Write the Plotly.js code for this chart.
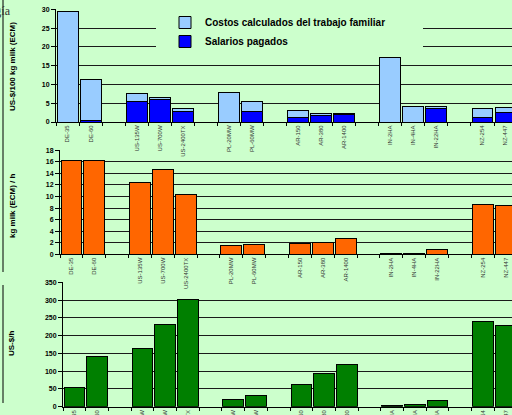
<!DOCTYPE html>
<html>
<head>
<meta charset="utf-8">
<script src="https://cdn.plot.ly/plotly-3.0.1.min.js"></script>
<style>html,body{margin:0;padding:0;background:#CCFFCC;}#chart{width:512px;height:415px;}</style>
</head>
<body>
<div id="chart"></div>
<script>
// Categories (blank entries are the gaps between country groups)
const categories = ['DE-35','DE-60',' ','US-135W','US-700W','US-2400TX','  ','PL-20MW','PL-60MW','   ','AR-150','AR-380','AR-1400','    ','IN-2HA','IN-4HA','IN-22HA','     ','NZ-254','NZ-447'];

// Panel 1: US-$/100 kg milk (ECM)
const salariosPagados = [0, 0.4, null, 5.5, 6.1, 2.9, null, 0, 2.9, null, 1.3, 1.7, 2.0, null, 0, 0, 3.5, null, 1.15, 2.4];
const costosFamiliar  = [29.5, 11.0, null, 2.1, 0.3, 0.7, null, 7.8, 2.6, null, 1.8, 0.5, 0.2, null, 17.1, 4.2, 0.5, null, 2.35, 1.4];

// Panel 2: kg milk (ECM) / h
const kgMilkPerHour = [16.3, 16.15, null, 12.5, 14.7, 10.4, null, 1.55, 1.7, null, 1.8, 2.0, 2.65, null, 0.17, 0.17, 0.75, null, 8.7, 8.4];

// Panel 3: US-$/h
const usdPerHour = [54, 142, null, 164, 230, 302, null, 20.5, 32, null, 62, 94, 118, null, 2, 5.5, 18, null, 241, 229];

const BG = '#CCFFCC';
const lineStyle = {color:'#000', width:1};

const traces = [
  {type:'bar', name:'Salarios pagados', x:categories, y:salariosPagados, xaxis:'x', yaxis:'y',
   marker:{color:'#0000FF', line:lineStyle}, hoverinfo:'skip'},
  {type:'bar', name:'Costos calculados del trabajo familiar', x:categories, y:costosFamiliar, xaxis:'x', yaxis:'y',
   marker:{color:'#99CCFF', line:lineStyle}, hoverinfo:'skip'},
  {type:'bar', name:'kg milk (ECM) / h', x:categories, y:kgMilkPerHour, xaxis:'x2', yaxis:'y2', showlegend:false,
   marker:{color:'#FF6600', line:lineStyle}, hoverinfo:'skip'},
  {type:'bar', name:'US-$/h', x:categories, y:usdPerHour, xaxis:'x3', yaxis:'y3', showlegend:false,
   marker:{color:'#007F00', line:lineStyle}, hoverinfo:'skip'}
];

const H = 415, W = 512;
function xax(left, anchor){
  return {domain:[left/W, 1], range:[-0.5, 19.28], type:'category', categoryorder:'array', categoryarray:categories,
    tickson:'boundaries', ticks:'outside', ticklen:3, tickcolor:'#000', tickangle:-90,
    tickfont:{size:6, color:'#333', family:'Arial, Liberation Sans, sans-serif'},
    showline:true, linecolor:'#000', linewidth:1, showgrid:false, anchor:anchor, fixedrange:true};
}
function yax(top, bottom, max, dtick, anchor){
  return {domain:[(H-bottom)/H, (H-top)/H], range:[0, max], dtick:dtick, ticks:'outside', ticklen:4, tickcolor:'#000',
    tickfont:{size:7, weight:'bold', family:'Arial, Liberation Sans, sans-serif'},
    showline:true, linecolor:'#000', linewidth:1, showgrid:true, gridcolor:'#1a1a1a', gridwidth:1,
    zeroline:false, anchor:anchor, fixedrange:true};
}

const titleFont = {size:8, weight:'bold', family:'Arial, Liberation Sans, sans-serif', color:'#000'};
const layout = {
  width:W, height:H, margin:{l:0, r:0, t:0, b:0},
  paper_bgcolor:BG, plot_bgcolor:BG,
  barmode:'stack', bargap:0.09,
  font:{family:'Arial, Liberation Sans, sans-serif', color:'#000'},
  showlegend:true,
  legend:{x:165/W, y:(H-8)/H, xanchor:'left', yanchor:'top', bgcolor:BG, borderwidth:0, traceorder:'reversed',
    font:{size:10, weight:'bold', family:'Arial, Liberation Sans, sans-serif'}},
  xaxis: xax(56, 'y'),
  yaxis: yax(9.3, 122, 30, 5, 'x'),
  xaxis2: xax(60, 'y2'),
  yaxis2: yax(150.3, 254.3, 18, 2, 'x2'),
  xaxis3: xax(63, 'y3'),
  yaxis3: yax(282.3, 406.7, 350, 50, 'x3'),
  annotations:[
    {text:'US-$/100 kg milk (ECM)', xref:'paper', yref:'paper', x:12/W, y:(H-67)/H, textangle:-90, showarrow:false, font:titleFont, xanchor:'center', yanchor:'middle'},
    {text:'kg milk (ECM) / h', xref:'paper', yref:'paper', x:12/W, y:(H-206)/H, textangle:-90, showarrow:false, font:titleFont, xanchor:'center', yanchor:'middle'},
    {text:'US-$/h', xref:'paper', yref:'paper', x:11/W, y:(H-344)/H, textangle:-90, showarrow:false, font:titleFont, xanchor:'center', yanchor:'middle'},
    {text:'logía', xref:'paper', yref:'paper', x:13/W, y:(H-2)/H, showarrow:false, xanchor:'right', yanchor:'top',
     font:{size:12, family:'Liberation Serif, DejaVu Serif, serif', color:'#333'}}
  ],
  shapes:[
    {type:'rect', xref:'paper', yref:'paper', layer:'above', x0:156/W, x1:423/W, y0:(H-53)/H, y1:(H-12)/H,
     fillcolor:BG, line:{width:0}},
    {type:'line', xref:'paper', yref:'paper', x0:3/W, x1:3/W, y0:(H-0)/H, y1:(H-272)/H, line:{color:'#000', width:1}},
    {type:'line', xref:'paper', yref:'paper', x0:3/W, x1:3/W, y0:(H-285)/H, y1:(H-403)/H, line:{color:'#000', width:1}}
  ]
};

Plotly.newPlot('chart', traces, layout, {staticPlot:true, displayModeBar:false});
</script>
</body>
</html>
